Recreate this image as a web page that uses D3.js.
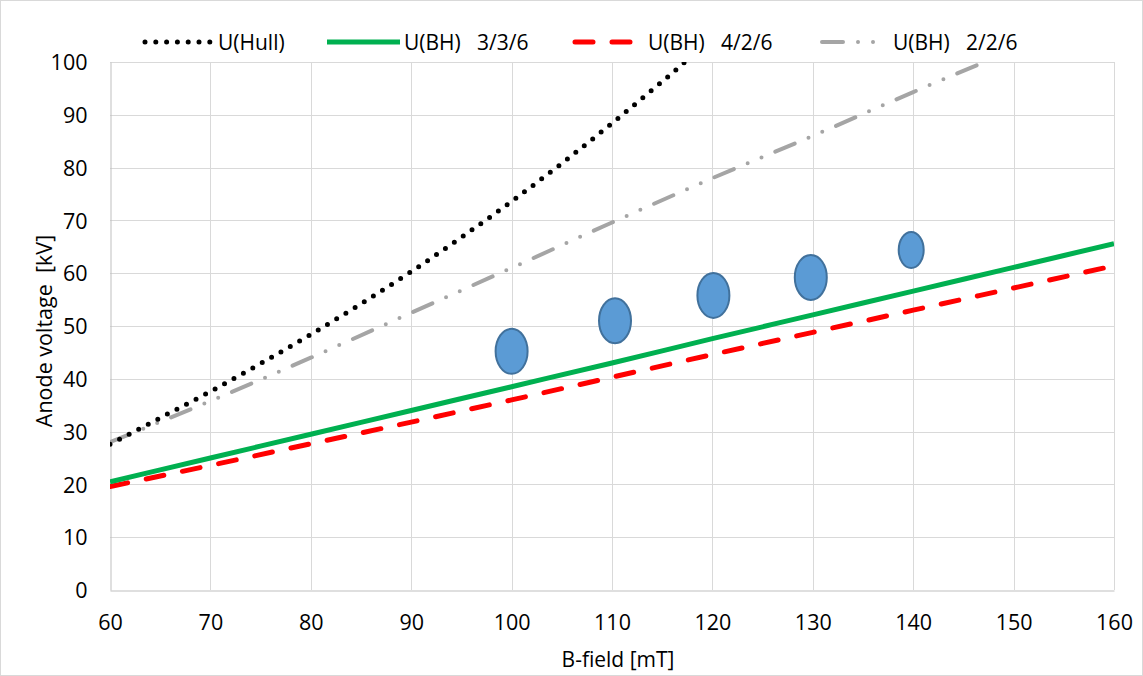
<!DOCTYPE html>
<html>
<head>
<meta charset="utf-8">
<script src="https://cdn.jsdelivr.net/npm/d3@7"></script>
<style>
  html, body { margin: 0; padding: 0; background: #fff; }
  svg { display: block; font-family: "Open Sans", "Liberation Sans", sans-serif; }
</style>
</head>
<body>
<svg id="chart" width="1143" height="676"></svg>
<script>
// B-field values (mT) at which the curves are sampled
const bField = [60, 70, 80, 90, 100, 110, 120, 130, 140, 150, 160];

// Hull cut-off voltage (kV), sampled every 5 mT
const hullB = [60, 65, 70, 75, 80, 85, 90, 95, 100, 105, 110, 115, 120];
const hullU = [27.6, 32.6, 37.6, 42.9, 48.4, 54.2, 60.3, 66.8, 73.6, 80.8, 88.4, 96.3, 104.5];

// Buneman-Hartree thresholds (kV) for the three configurations
const bh336 = [20.5, 25.0, 29.5, 34.0, 38.5, 43.0, 47.6, 52.1, 56.6, 61.1, 65.6];
const bh426 = [19.6, 23.6, 27.7, 31.8, 36.0, 40.3, 44.6, 48.8, 53.0, 57.2, 61.4];
const bh226 = [28.0, 35.8, 44.0, 52.5, 61.0, 69.6, 78.0, 86.0, 94.3, 102.3, null];

// Measured operating points
const measB = [100, 110.3, 120.1, 129.8, 139.8];
const measU = [45.2, 51.0, 55.8, 59.2, 64.4];

// Axis ticks
const xTicks = [60, 70, 80, 90, 100, 110, 120, 130, 140, 150, 160];
const yTicks = [0, 10, 20, 30, 40, 50, 60, 70, 80, 90, 100];

// Marker half-axes in pixels (last point drawn smaller)
const markerRx = [16, 16, 16, 16, 12.5];
const markerRy = [22.5, 22.5, 22.5, 22.5, 18];

const svg = d3.select("#chart");
const W = 1143, H = 676;
const plot = { left: 110, right: 1114, top: 62, bottom: 590 };
const tickFont = 21.5;

const x = d3.scaleLinear().domain([60, 160]).range([plot.left, plot.right]);
const y = d3.scaleLinear().domain([0, 100]).range([plot.bottom, plot.top]);

// outer frame
svg.append("rect")
  .attr("x", 0.5).attr("y", 0.5).attr("width", W - 1).attr("height", H - 1)
  .attr("fill", "#fff").attr("stroke", "#d9d9d9");

// gridlines
const grid = svg.append("g");
grid.selectAll("line.h").data(yTicks.slice(1)).join("line")
  .attr("x1", plot.left).attr("x2", plot.right)
  .attr("y1", d => Math.round(y(d)) + 0.5).attr("y2", d => Math.round(y(d)) + 0.5)
  .attr("stroke", "#d9d9d9").attr("stroke-width", 1);
grid.selectAll("line.v").data(xTicks.slice(1)).join("line")
  .attr("y1", plot.top).attr("y2", plot.bottom)
  .attr("x1", d => Math.round(x(d)) + 0.5).attr("x2", d => Math.round(x(d)) + 0.5)
  .attr("stroke", "#d9d9d9").attr("stroke-width", 1);

// axes
const xAxis = svg.append("g")
  .attr("transform", `translate(0,${Math.round(plot.bottom) + 0.5})`)
  .call(d3.axisBottom(x).tickValues(xTicks).tickSize(0).tickPadding(39).tickFormat(d3.format("d")));
const yAxis = svg.append("g")
  .attr("transform", `translate(${Math.round(plot.left) + 0.5},0)`)
  .call(d3.axisLeft(y).tickValues(yTicks).tickSize(0).tickPadding(23).tickFormat(d3.format("d")));
[xAxis, yAxis].forEach(a => {
  a.select(".domain").attr("stroke", "#bfbfbf").attr("stroke-width", 1);
  a.selectAll("text").attr("font-family", "Open Sans").attr("font-size", tickFont).attr("fill", "#000");
});
xAxis.selectAll("text").attr("dy", "0");
yAxis.selectAll("text").attr("dy", "0.36em");

// axis titles
svg.append("text")
  .attr("x", 618).attr("y", 667)
  .attr("text-anchor", "middle").attr("font-size", 21).attr("fill", "#000")
  .text("B-field [mT]");
svg.append("text")
  .attr("transform", "translate(52,331) rotate(-90)")
  .attr("text-anchor", "middle").attr("font-size", 21.5).attr("fill", "#000")
  .attr("xml:space", "preserve").style("white-space", "pre")
  .text("Anode voltage  [kV]");

// clip for series
svg.append("defs").append("clipPath").attr("id", "plotClip")
  .append("rect")
  .attr("x", plot.left).attr("y", plot.top)
  .attr("width", plot.right - plot.left).attr("height", plot.bottom - plot.top);

const line = d3.line()
  .defined(d => d[1] != null)
  .x(d => x(d[0])).y(d => y(d[1]))
  .curve(d3.curveMonotoneX);

const styles = {
  hull: { stroke: "#000000", width: 5, dash: "0,10.8", cap: "round" },
  s336: { stroke: "#00b050", width: 5, dash: null, cap: "butt" },
  s426: { stroke: "#ff0000", width: 5, dash: "18,19", cap: "round" },
  s226: { stroke: "#a5a5a5", width: 4, dash: "21,15,0,15,0,15", cap: "round" }
};

const series = [
  { key: "s226", pts: bField.map((b, i) => [b, bh226[i]]) },
  { key: "s426", pts: bField.map((b, i) => [b, bh426[i]]) },
  { key: "s336", pts: bField.map((b, i) => [b, bh336[i]]) },
  { key: "hull", pts: hullB.map((b, i) => [b, hullU[i]]) }
];

const lines = svg.append("g").attr("clip-path", "url(#plotClip)");
series.forEach(s => {
  const st = styles[s.key];
  lines.append("path")
    .datum(s.pts)
    .attr("d", line)
    .attr("fill", "none")
    .attr("stroke", st.stroke)
    .attr("stroke-width", st.width)
    .attr("stroke-linecap", st.cap)
    .attr("stroke-linejoin", "round")
    .attr("stroke-dasharray", st.dash);
});

// measured points
svg.append("g").selectAll("ellipse")
  .data(measB.map((b, i) => ({ b, u: measU[i], rx: markerRx[i], ry: markerRy[i] })))
  .join("ellipse")
  .attr("cx", d => x(d.b)).attr("cy", d => y(d.u))
  .attr("rx", d => d.rx).attr("ry", d => d.ry)
  .attr("fill", "#5b9bd5").attr("stroke", "#41719c").attr("stroke-width", 2);

// legend
const legendItems = [
  { key: "hull", label: "U(Hull)", x1: 145, x2: 212, tx: 218 },
  { key: "s336", label: "U(BH)   3/3/6", x1: 327, x2: 400, tx: 404 },
  { key: "s426", label: "U(BH)   4/2/6", x1: 575, x2: 632, tx: 648 },
  { key: "s226", label: "U(BH)   2/2/6", x1: 822, x2: 884, tx: 893 }
];
const legend = svg.append("g");
legendItems.forEach(it => {
  const st = styles[it.key];
  legend.append("line")
    .attr("x1", it.x1).attr("x2", it.x2).attr("y1", 42).attr("y2", 42)
    .attr("stroke", st.stroke).attr("stroke-width", st.width)
    .attr("stroke-linecap", st.cap).attr("stroke-dasharray", st.dash);
  legend.append("text")
    .attr("x", it.tx).attr("y", 42).attr("dy", "0.36em")
    .attr("font-size", 21).attr("fill", "#000")
    .attr("xml:space", "preserve").style("white-space", "pre")
    .text(it.label);
});
</script>
</body>
</html>
